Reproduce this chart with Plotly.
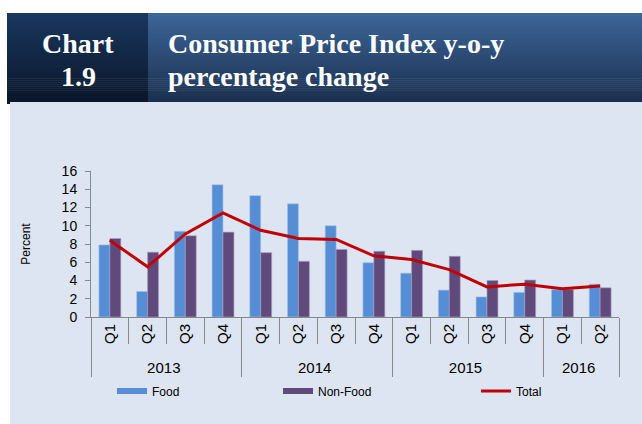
import plotly.graph_objects as go

years = ["2013"] * 4 + ["2014"] * 4 + ["2015"] * 4 + ["2016"] * 2
quarters = ["Q1", "Q2", "Q3", "Q4"] * 3 + ["Q1", "Q2"]
food = [7.9, 2.8, 9.4, 14.5, 13.3, 12.4, 10.0, 5.95, 4.8, 2.95, 2.2, 2.7, 3.0, 3.6]
non_food = [8.6, 7.1, 8.9, 9.3, 7.05, 6.1, 7.4, 7.2, 7.3, 6.65, 4.0, 4.05, 3.0, 3.2]
total = [8.4, 5.5, 9.1, 11.4, 9.5, 8.6, 8.5, 6.7, 6.3, 5.2, 3.3, 3.6, 3.1, 3.4]
y_ticks = [0, 2, 4, 6, 8, 10, 12, 14, 16]

FOOD_C, NONFOOD_C, TOTAL_C = "#558ED5", "#604A7B", "#C00000"

W, H = 642, 424
L, R, T, B = 91, 619, 171, 317


def px(x):
    return (x - L) / (R - L)


def py(y):
    return (B - y) / (B - T)


FONT = "Liberation Sans, Arial, sans-serif"
SERIF = "Liberation Serif, Times New Roman, serif"

fig = go.Figure()
fig.add_trace(go.Bar(x=[years, quarters], y=food, name="Food", showlegend=False,
                     marker=dict(color=FOOD_C, line=dict(color="#a9c2e6", width=0.6))))
fig.add_trace(go.Bar(x=[years, quarters], y=non_food, name="Non-Food", showlegend=False,
                     marker=dict(color=NONFOOD_C, line=dict(color="#a99bbd", width=0.6))))
fig.add_trace(go.Scatter(x=[years, quarters], y=total, name="Total", mode="lines",
                         line=dict(color=TOTAL_C, width=3), legend="legend3"))
# legend swatches for the bar series (wide rectangular keys)
fig.add_trace(go.Scatter(x=[years, quarters], y=[None] * len(years), name="Food",
                         mode="lines", line=dict(color=FOOD_C, width=6), legend="legend",
                         hoverinfo="skip"))
fig.add_trace(go.Scatter(x=[years, quarters], y=[None] * len(years), name="Non-Food",
                         mode="lines", line=dict(color=NONFOOD_C, width=6), legend="legend2",
                         hoverinfo="skip"))

shapes = []
# panel background
shapes.append(dict(type="rect", xref="paper", yref="paper", layer="below",
                   x0=px(10), x1=px(642), y0=py(102), y1=py(424),
                   fillcolor="#DCE5F1", line=dict(width=0)))


def lerp(c1, c2, t):
    return "#%02x%02x%02x" % tuple(int(round(a + (b - a) * t)) for a, b in zip(c1, c2))


top_y, bot_y = 13, 102
n = 45
step = (bot_y - top_y) / n
for i in range(n):
    t = i / (n - 1)
    y0 = top_y + i * step
    y1 = min(y0 + step + 0.6, bot_y)
    shapes.append(dict(type="rect", xref="paper", yref="paper", layer="below",
                       x0=px(7), x1=px(148), y0=py(y1), y1=py(y0),
                       fillcolor=lerp((0x1a, 0x37, 0x5e), (0x0a, 0x17, 0x2b), t),
                       line=dict(width=0)))
    shapes.append(dict(type="rect", xref="paper", yref="paper", layer="below",
                       x0=px(148), x1=px(642), y0=py(y1), y1=py(y0),
                       fillcolor=lerp((0x3d, 0x65, 0x97), (0x1b, 0x30, 0x50), t),
                       line=dict(width=0)))
shapes.append(dict(type="rect", xref="paper", yref="paper", layer="below",
                   x0=px(7), x1=px(10), y0=py(104), y1=py(101),
                   fillcolor="#0a172b", line=dict(width=0)))


def head(text, x, y, anchor):
    return dict(text="<b>%s</b>" % text, xref="paper", yref="paper", x=px(x), y=py(y),
                xanchor=anchor, yanchor="middle", showarrow=False,
                font=dict(family=SERIF, size=28, color="white"))


annotations = [
    head("Chart", 78, 43, "center"),
    head("1.9", 78, 76.5, "center"),
    head("Consumer Price Index y-o-y", 166, 43, "left"),
    head("percentage change", 166, 76.5, "left"),
]

leg_common = dict(orientation="h", yanchor="middle", xanchor="left",
                  bgcolor="rgba(0,0,0,0)", font=dict(family=FONT, size=12, color="black"),
                  itemclick=False, itemdoubleclick=False)

fig.update_layout(
    width=W, height=H,
    margin=dict(l=L, r=W - R, t=T, b=H - B, autoexpand=False),
    paper_bgcolor="white", plot_bgcolor="rgba(0,0,0,0)",
    showlegend=True,
    barmode="group", bargap=0.42, bargroupgap=0,
    font=dict(family=FONT, size=13, color="black"),
    shapes=shapes, annotations=annotations,
    legend=dict(x=px(112), y=py(391), **leg_common),
    legend2=dict(x=px(278), y=py(391), **leg_common),
    legend3=dict(x=px(476), y=py(391), **leg_common),
    xaxis=dict(type="multicategory", tickangle=-90, showline=True, linecolor="#888888",
               linewidth=1, ticks="outside", tickson="boundaries", ticklen=26,
               tickcolor="#888888", showdividers=True, dividercolor="#888888",
               dividerwidth=1, tickfont=dict(family=FONT, size=15, color="black"),
               showgrid=False, zeroline=False, automargin=False),
    yaxis=dict(range=[0, 16], tickvals=y_ticks, showline=True, linecolor="#888888",
               linewidth=1, ticks="outside", ticklen=5, tickcolor="#888888",
               ticklabelstandoff=5,
               showgrid=False, zeroline=False, automargin=False,
               tickfont=dict(family=FONT, size=14, color="black"),
               title=dict(text="Percent", font=dict(family=FONT, size=12, color="black"),
                          standoff=28)),
)

fig.write_html("out.html", post_script="document.body.style.margin='0';",
               config={"displayModeBar": False})
